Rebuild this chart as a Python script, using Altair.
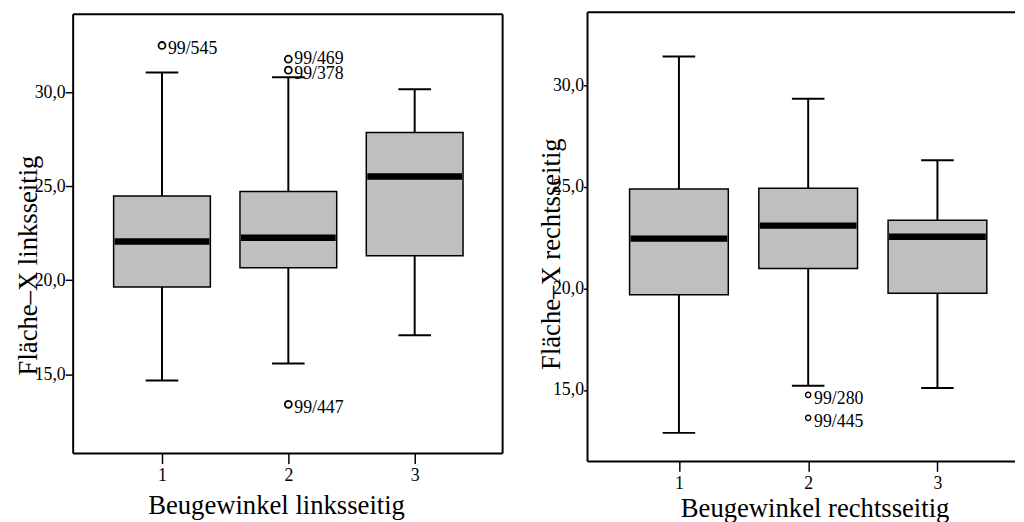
import altair as alt
import pandas as pd

FONT = "Liberation Serif"

cats = [1, 2, 3]

# Left panel (linksseitig)
l_low = [14.67, 15.58, 17.08]
l_q1 = [19.65, 20.67, 21.31]
l_med = [22.06, 22.26, 25.52]
l_q3 = [24.48, 24.72, 27.85]
l_high = [31.05, 30.79, 30.16]
l_out_cat = [1, 2, 2, 2]
l_out_val = [32.48, 31.75, 31.17, 13.41]
l_out_lab = ["99/545", "99/469", "99/378", "99/447"]

# Right panel (rechtsseitig)
r_low = [12.89, 15.21, 15.10]
r_q1 = [19.69, 20.99, 19.77]
r_med = [22.46, 23.10, 22.55]
r_q3 = [24.90, 24.94, 23.37]
r_high = [31.43, 29.35, 26.32]
r_out_cat = [2, 2]
r_out_val = [14.76, 13.63]
r_out_lab = ["99/280", "99/445"]

y_ticks = [15, 20, 25, 30]


def panel(low, q1, med, q3, high, ocat, oval, olab, xdom, ydom, W, H,
          xtitle, ytitle, ytx, yty, xtx, xty, ytick, ylpad, osize, osw,
          box_w, full_frame, frame_top, tight_label):
    box = pd.DataFrame({"cat": cats, "low": low, "q1": q1, "med": med,
                        "q3": q3, "high": high})
    out = pd.DataFrame({"cat": ocat, "val": oval, "lab": olab})

    xscale = alt.Scale(domain=xdom, nice=False, zero=False)
    yscale = alt.Scale(domain=ydom, nice=False, zero=False)
    xaxis = alt.Axis(values=cats, format="d", labelFont=FONT, labelFontSize=18,
                     labelColor="black", tickSize=10, tickWidth=1.5,
                     tickColor="black", domain=False, grid=False,
                     labelPadding=3, labelFlush=False,
                     titleFont=FONT, titleFontSize=27, titleFontWeight="normal",
                     titleColor="black", titleX=xtx, titleY=xty,
                     titleBaseline="alphabetic", titleAlign="center")
    yaxis = alt.Axis(values=y_ticks,
                     labelExpr="replace(format(datum.value, '.1f'), '.', ',')",
                     labelFont=FONT, labelFontSize=18, labelColor="black",
                     tickSize=ytick, tickWidth=1.5, tickColor="black",
                     labelPadding=ylpad, domain=False, grid=False,
                     titleFont=FONT, titleFontSize=27, titleFontWeight="normal",
                     titleColor="black", titleX=ytx, titleY=yty,
                     titleAngle=270, titleBaseline="alphabetic",
                     titleAlign="center")

    def X():
        return alt.X("cat:Q", scale=xscale, axis=xaxis, title=xtitle)

    def Y(f):
        return alt.Y(f + ":Q", scale=yscale, axis=yaxis, title=ytitle)

    base = alt.Chart(box)
    w_lo = base.mark_rule(color="black", strokeWidth=2).encode(
        x=X(), y=Y("low"), y2="q1:Q")
    w_hi = base.mark_rule(color="black", strokeWidth=2).encode(
        x=X(), y=Y("q3"), y2="high:Q")
    cap_lo = base.mark_tick(orient="horizontal", size=33, thickness=2,
                            color="black", opacity=1).encode(x=X(), y=Y("low"))
    cap_hi = base.mark_tick(orient="horizontal", size=33, thickness=2,
                            color="black", opacity=1).encode(x=X(), y=Y("high"))
    bx = base.mark_bar(size=box_w, fill="#bfbfbf", stroke="black",
                       strokeWidth=1.5, opacity=1).encode(
        x=X(), y=Y("q1"), y2="q3:Q")
    md = base.mark_tick(orient="horizontal", size=box_w - 2, thickness=6.5,
                        color="black", opacity=1).encode(x=X(), y=Y("med"))
    ob = alt.Chart(out)
    pts = ob.mark_point(shape="circle", filled=False, color="black",
                        strokeWidth=osw, size=osize, opacity=1).encode(
        x=X(), y=Y("val"))
    txt_main = ob.transform_filter(
        alt.datum.lab != tight_label).mark_text(
        align="left", baseline="middle", dx=6, dy=4,
        font=FONT, fontSize=18, color="black").encode(
        x=X(), y=Y("val"), text="lab:N")
    txt_tight = ob.transform_filter(
        alt.datum.lab == tight_label).mark_text(
        align="left", baseline="middle", dx=6, dy=0,
        font=FONT, fontSize=18, color="black").encode(
        x=X(), y=Y("val"), text="lab:N")

    fd = alt.Chart(pd.DataFrame({"a": [0]}))
    frame = [
        fd.mark_rule(color="black", strokeWidth=2).encode(
            x=alt.value(0), x2=alt.value(W), y=alt.value(frame_top)),
        fd.mark_rule(color="black", strokeWidth=2).encode(
            x=alt.value(0), x2=alt.value(W), y=alt.value(H)),
        fd.mark_rule(color="black", strokeWidth=2).encode(
            x=alt.value(0), y=alt.value(frame_top), y2=alt.value(H)),
    ]
    if full_frame:
        frame.append(fd.mark_rule(color="black", strokeWidth=2).encode(
            x=alt.value(W), y=alt.value(frame_top), y2=alt.value(H)))

    return alt.layer(w_lo, w_hi, cap_lo, cap_hi, bx, md, pts, txt_main,
                     txt_tight, *frame).properties(width=W, height=H)


left = panel(l_low, l_q1, l_med, l_q3, l_high, l_out_cat, l_out_val, l_out_lab,
             [0.336, 3.657], [10.79, 34.245], 435, 447,
             "Beugewinkel linksseitig", "Fläche–X linksseitig",
             -37, 256, 205.5, 61, 8, 0, 50, 1.8, 98, True, 2, "99/469")
right = panel(r_low, r_q1, r_med, r_q3, r_high, r_out_cat, r_out_val, r_out_lab,
              [0.331, 3.562], [11.48, 33.61], 433, 455,
              "Beugewinkel rechtsseitig", "Fläche–X rechtsseitig",
              -28.6, 244.5, 230, 56, 4, 0, 28, 1.4, 100, False, 0, "none")

chart = alt.hconcat(left, right, spacing=34).properties(
    padding={"left": 7, "top": 0, "right": 0, "bottom": 0},
    background="white",
).configure_view(stroke=None).resolve_scale(x="independent", y="independent")

chart.save("out.html", embed_options={"renderer": "svg", "actions": False})
